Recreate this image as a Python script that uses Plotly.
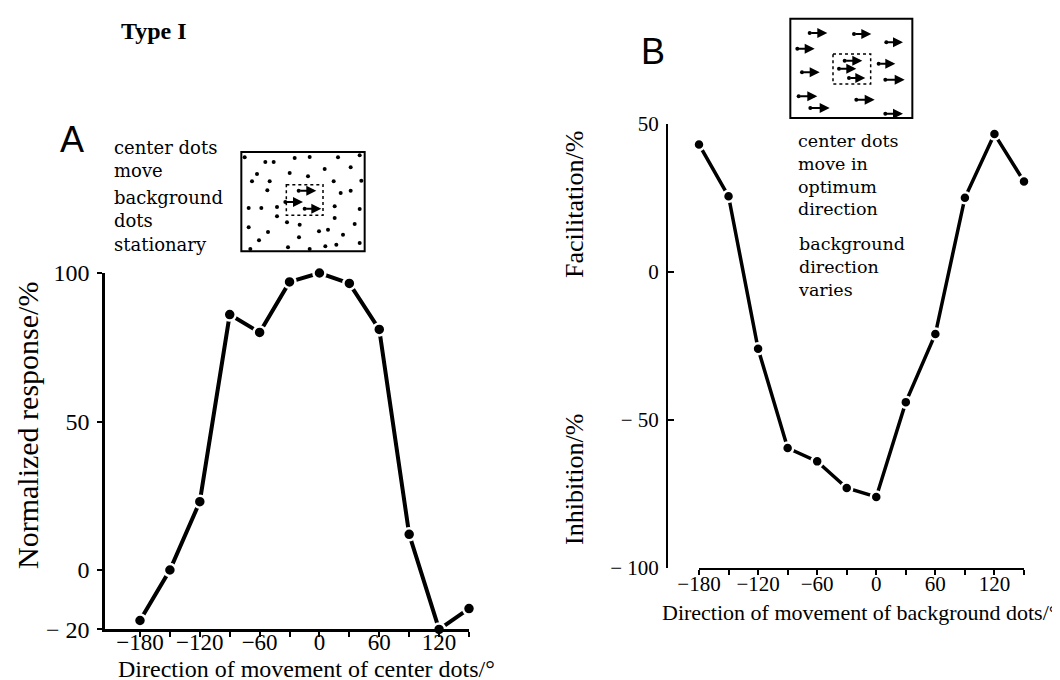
import plotly.graph_objects as go

W, H = 1060, 680

# ---------------- data ----------------
directions = [-180, -150, -120, -90, -60, -30, 0, 30, 60, 90, 120, 150]
response_A = [-17, 0, 23, 86, 80, 97, 100, 96.5, 81, 12, -20, -13]
response_B = [43, 25.5, -26, -59.5, -64, -73, -76, -44, -21, 25, 46.5, 30.5]

x_tickvals = [-180, -150, -120, -90, -60, -30, 0, 30, 60, 90, 120, 150]
x_ticktext = ["\u2212180", "", "\u2212120", "", "\u221260", "", "0", "", "60", "", "120", ""]
yA_tickvals = [100, 50, 0, -20]
yA_ticktext = ["100", "50", "0", "\u2212 20"]
yB_tickvals = [50, 0, -50, -100]
yB_ticktext = ["50", "0", "\u2212 50", "\u2212 100"]

# inset A: stationary background dots (inset units)
dotsA_x = [110, 172, 197, 260, 305, 390, 455, 147, 245, 300, 350, 428, 132, 185, 377, 460,
           178, 398, 428, 122, 160, 207, 380, 455, 207, 380, 237, 275, 440, 122, 180, 333,
           360, 405, 153, 273, 455, 127, 240, 305, 352, 385]
dotsA_y = [58, 72, 72, 60, 57, 58, 52, 108, 105, 115, 93, 88, 130, 130, 130, 128,
           157, 165, 158, 210, 210, 207, 205, 213, 235, 240, 253, 260, 258, 268, 282, 280,
           275, 290, 307, 298, 315, 333, 328, 333, 325, 320]
arrowsA_tail_x = [272, 232, 290]
arrowsA_tail_y = [158, 192, 212]
arrowsA_head_x = [325, 285, 340]
arrowsA_head_y = [158, 192, 212]

# inset B: moving background dots (inset units)
arrowsB_tail_x = [95, 228, 325, 58, 200, 183, 302, 72, 213, 322, 62, 235, 97, 322]
arrowsB_tail_y = [75, 78, 103, 122, 158, 182, 167, 193, 210, 215, 265, 275, 300, 317]
arrowsB_head_x = [148, 280, 375, 110, 253, 235, 352, 125, 262, 380, 118, 290, 155, 375]
arrowsB_head_y = [75, 78, 103, 122, 158, 182, 167, 193, 210, 215, 265, 275, 300, 317]

labelA_group1 = ["center dots", "move"]
labelA_group2 = ["background", "dots", "stationary"]
labelB_group1 = ["center dots", "move in", "optimum", "direction"]
labelB_group2 = ["background", "direction", "varies"]

SERIF = "Liberation Serif, Times New Roman, serif"
WIDE_SERIF = "DejaVu Serif, serif"
SANS = "Liberation Sans, Arial, sans-serif"


def px(x):
    return x / W


def py(y):
    return 1 - y / H


fig = go.Figure()

# ---- panel A ----
fig.add_trace(go.Scatter(
    x=directions, y=response_A, mode="lines+markers", xaxis="x", yaxis="y",
    line=dict(color="black", width=4),
    marker=dict(color="black", size=12, line=dict(color="white", width=2.5)),
    cliponaxis=False, showlegend=False, hoverinfo="x+y"))

# ---- panel B ----
fig.add_trace(go.Scatter(
    x=directions, y=response_B, mode="lines+markers", xaxis="x2", yaxis="y2",
    line=dict(color="black", width=3.5),
    marker=dict(color="black", size=11, line=dict(color="white", width=2.5)),
    cliponaxis=False, showlegend=False, hoverinfo="x+y"))

# ---- insets ----
fig.add_trace(go.Scatter(
    x=dotsA_x, y=dotsA_y, mode="markers", xaxis="x3", yaxis="y3",
    marker=dict(color="black", size=4), showlegend=False, hoverinfo="skip"))
fig.add_trace(go.Scatter(
    x=arrowsA_tail_x, y=arrowsA_tail_y, mode="markers", xaxis="x3", yaxis="y3",
    marker=dict(color="black", size=4), showlegend=False, hoverinfo="skip"))
fig.add_trace(go.Scatter(
    x=arrowsB_tail_x, y=arrowsB_tail_y, mode="markers", xaxis="x4", yaxis="y4",
    marker=dict(color="black", size=4), showlegend=False, hoverinfo="skip"))

annotations = []
for tx, ty, hx, hy in zip(arrowsA_tail_x, arrowsA_tail_y, arrowsA_head_x, arrowsA_head_y):
    annotations.append(dict(x=hx, y=hy, ax=tx, ay=ty, xref="x3", yref="y3", axref="x3", ayref="y3",
                            showarrow=True, arrowhead=2, arrowsize=1, arrowwidth=2,
                            arrowcolor="black", text=""))
for tx, ty, hx, hy in zip(arrowsB_tail_x, arrowsB_tail_y, arrowsB_head_x, arrowsB_head_y):
    annotations.append(dict(x=hx, y=hy, ax=tx, ay=ty, xref="x4", yref="y4", axref="x4", ayref="y4",
                            showarrow=True, arrowhead=2, arrowsize=1, arrowwidth=2,
                            arrowcolor="black", text=""))


def txt(text, x, y, size, xanchor="left", angle=0, family=SERIF, bold=False, align="left"):
    t = "<b>%s</b>" % text if bold else text
    annotations.append(dict(text=t, x=px(x), y=py(y), xref="paper", yref="paper",
                            xanchor=xanchor, yanchor="middle", showarrow=False, align=align,
                            textangle=angle, borderpad=0,
                            font=dict(family=family, size=size, color="black")))


txt("Type I", 146, 23, 24, xanchor="center", bold=True)
txt("A", 64, 131, 36, xanchor="center", family=SANS)
txt("B", 645, 43, 36, xanchor="center", family=SANS)

txt("<br>".join(labelA_group1), 105, 151, 18, family=WIDE_SERIF)
txt("<br>".join(labelA_group2), 105, 213, 18, family=WIDE_SERIF)
txt("<br>".join(labelB_group1), 789, 167, 17.5, family=WIDE_SERIF)
txt("<br>".join(labelB_group2), 789, 259, 17.5, family=WIDE_SERIF)

txt("Normalized response/%", 19, 418, 30, xanchor="center", angle=-90)
txt("Direction of movement of center dots/\u00b0", 298, 661, 24, xanchor="center")
txt("Facilitation/%", 566, 197, 26, xanchor="center", angle=-90)
txt("Inhibition/%", 566, 472, 26, xanchor="center", angle=-90)
txt("Direction of movement of background dots/\u00b0", 852, 604, 22, xanchor="center")

shapes = [
    dict(type="rect", xref="x3", yref="y3", x0=100, x1=470, y0=42, y1=340,
         line=dict(color="black", width=2)),
    dict(type="rect", xref="x3", yref="y3", x0=235, x1=345, y0=140, y1=232,
         line=dict(color="black", width=1.5, dash="dot")),
    dict(type="rect", xref="x4", yref="y4", x0=37, x1=403, y0=32, y1=330,
         line=dict(color="black", width=2)),
    dict(type="rect", xref="x4", yref="y4", x0=165, x1=278, y0=138, y1=228,
         line=dict(color="black", width=1.5, dash="dot")),
]

axis_common = dict(showgrid=False, zeroline=False, showline=True, linecolor="black",
                   tickcolor="black", fixedrange=True, automargin=False)
hidden = dict(visible=False, fixedrange=True, automargin=False, showgrid=False, zeroline=False)

fig.update_layout(
    template="none",
    width=W, height=H, autosize=False,
    margin=dict(l=0, r=0, t=0, b=0, pad=0),
    paper_bgcolor="white", plot_bgcolor="white",
    font=dict(family=SERIF, color="black"),
    showlegend=False,
    xaxis=dict(**axis_common, domain=[px(97), px(461)], range=[-215.1, 150], anchor="y",
               tickmode="array", tickvals=x_tickvals, ticktext=x_ticktext,
               ticks="outside", ticklen=5, tickwidth=2, linewidth=2.5,
               tickfont=dict(size=23, family=SERIF), ticklabelstandoff=-15),
    yaxis=dict(**axis_common, domain=[py(621.4), py(265)], range=[-20, 100], anchor="x",
               tickmode="array", tickvals=yA_tickvals, ticktext=yA_ticktext,
               ticks="outside", ticklen=5, tickwidth=2, linewidth=2.5,
               tickfont=dict(size=24, family=SERIF), ticklabelstandoff=3),
    xaxis2=dict(**axis_common, domain=[px(691), px(1016)], range=[-180, 150], anchor="y2",
                tickmode="array", tickvals=x_tickvals, ticktext=x_ticktext,
                ticks="outside", ticklen=5, tickwidth=2, linewidth=2,
                tickfont=dict(size=21, family=SERIF), ticklabelstandoff=-9),
    yaxis2=dict(**axis_common, domain=[py(560), py(115.7)], range=[-100, 50], anchor="free",
                position=px(659),
                tickmode="array", tickvals=yB_tickvals, ticktext=yB_ticktext,
                ticks="inside", ticklen=6, tickwidth=2, linewidth=2,
                tickfont=dict(size=21, family=SERIF), ticklabelstandoff=3),
    xaxis3=dict(**hidden, domain=[px(230), px(360)], range=[90, 480], anchor="y3"),
    yaxis3=dict(**hidden, domain=[py(246.67), py(140.67)], range=[350, 32], anchor="x3"),
    xaxis4=dict(**hidden, domain=[px(779), px(907.67)], range=[27, 413], anchor="y4"),
    yaxis4=dict(**hidden, domain=[py(113.33), py(7.33)], range=[340, 22], anchor="x4"),
    annotations=annotations,
    shapes=shapes,
)

fig.write_html("out.html")
